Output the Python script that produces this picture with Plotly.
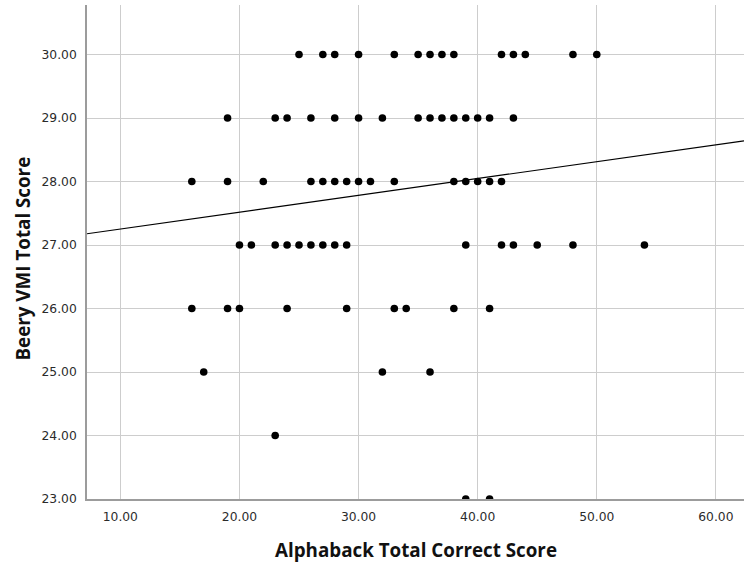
import numpy as np
import plotly.graph_objects as go

# Alphaback total correct score, grouped by Beery VMI total score
beery_levels = [30, 29, 28, 27, 26, 25, 24, 23]
alphaback_by_level = [
    [25, 27, 28, 30, 33, 35, 36, 37, 38, 42, 43, 44, 48, 50],
    [19, 23, 24, 26, 28, 30, 32, 35, 36, 37, 38, 39, 40, 41, 43],
    [16, 19, 22, 26, 27, 28, 29, 30, 31, 33, 38, 39, 40, 41, 42],
    [20, 21, 23, 24, 25, 26, 27, 28, 29, 39, 42, 43, 45, 48, 54],
    [16, 19, 20, 24, 29, 33, 34, 38, 41],
    [17, 32, 36],
    [23],
    [39, 41],
]

# Fit line (total population linear fit)
fit_intercept = 26.987
fit_slope = 0.02652

x_ticks = [10, 20, 30, 40, 50, 60]
y_ticks = [23, 24, 25, 26, 27, 28, 29, 30]
x_range = [7.2, 62.36]
y_range = [23.0, 30.78]

xs = []
ys = []
for level, vals in zip(beery_levels, alphaback_by_level):
    xs.extend(vals)
    ys.extend([level] * len(vals))

fit_x = np.array(x_range)
fit_y = fit_intercept + fit_slope * fit_x

fig = go.Figure()
fig.add_trace(go.Scatter(
    x=fit_x, y=fit_y, mode="lines",
    line=dict(color="black", width=1.1),
    hoverinfo="skip", showlegend=False,
))
fig.add_trace(go.Scatter(
    x=xs, y=ys, mode="markers",
    marker=dict(color="black", size=7.6, line=dict(width=0)),
    showlegend=False,
))

tick_font = dict(family="DejaVu Sans", size=12.3, color="#2a2a2a")
grid_color = "#cdcdcd"
axis_color = "#9c9c9c"

fig.update_xaxes(
    range=x_range, tickvals=x_ticks, tickformat=".2f",
    showgrid=True, gridcolor=grid_color, gridwidth=1.4,
    showline=True, linecolor=axis_color, linewidth=1.6,
    zeroline=False, ticks="", ticklabelstandoff=5,
    tickfont=tick_font,
)
fig.update_yaxes(
    range=y_range, tickvals=y_ticks, tickformat=".2f",
    showgrid=True, gridcolor=grid_color, gridwidth=1.4,
    showline=True, linecolor=axis_color, linewidth=1.6,
    zeroline=False, ticks="", ticklabelstandoff=6,
    tickfont=tick_font,
)

title_font = dict(family="Open Sans", size=18.8, color="#111111")
fig.add_annotation(
    text="<b>Alphaback Total Correct Score</b>",
    xref="paper", yref="paper", x=0.5, y=-0.103,
    xanchor="center", yanchor="middle", showarrow=False,
    font=title_font,
)
fig.add_annotation(
    text="<b>Beery VMI Total Score</b>",
    xref="paper", yref="paper", x=-0.098, y=0.486,
    xanchor="center", yanchor="middle", textangle=-90, showarrow=False,
    font=title_font,
)

fig.update_layout(
    width=744, height=563,
    margin=dict(l=87, r=0, t=5, b=63.7),
    plot_bgcolor="white", paper_bgcolor="white",
)

fig.write_html("out.html")
